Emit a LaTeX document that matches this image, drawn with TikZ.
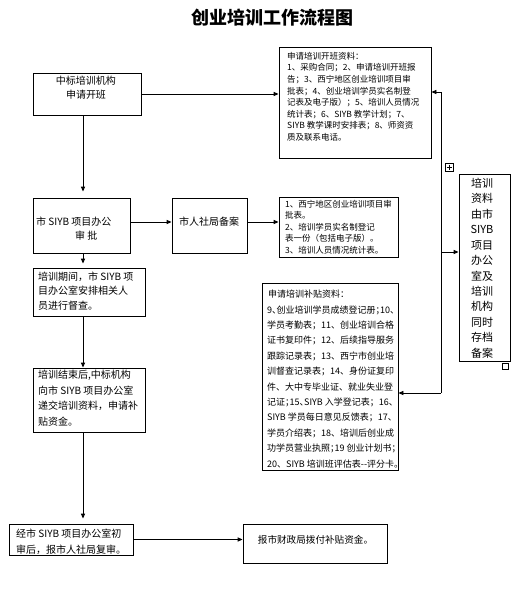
\documentclass[tikz,border=0pt]{standalone}
\usepackage{fontspec}
\setmainfont{Noto Sans CJK SC}
\usetikzlibrary{arrows.meta,calc}
\newcommand{\np}[1]{\makebox[0.5em][l]{#1}}
\newcommand{\fs}[2]{\fontsize{#1pt}{#2pt}\selectfont}
\begin{document}
\begin{tikzpicture}[x=1pt,y=-1pt,
  box/.style={draw,line width=0.9pt,inner sep=0pt},
  txt/.style={inner sep=0pt,align=left,anchor=north west},
  ln/.style={line width=0.9pt},
  arr/.style={ln,-{Triangle[length=5pt,width=4.2pt]}}]
\useasboundingbox (0,0) rectangle (518,595);
\node[inner sep=0pt,font=\fs{18}{20}\bfseries] (title) at (272,18) {创业培训工作流程图};

\node[box,minimum width=108pt,minimum height=42pt] (b1) at (87,94) {};
\node[txt,align=center,anchor=north,font=\fs{10}{14}] (t1) at (86,76.3) {中标培训机构\\申请开班};

\node[box,minimum width=152pt,minimum height=111pt] (b2) at (355,102.5) {};
\node[txt,font=\fs{8.5}{11.6}] (t2) at (287,52) {申请培训开班资料：\\1、采购合同；2、申请培训开班报\\告；3、西宁地区创业培训项目审\\批表；4、创业培训学员实名制登\\记表及电子版）；5、培训人员情况\\统计表；6、SIYB 教学计划；7、\\SIYB 教学课时安排表；8、师资资\\质及联系电话。};

\node[box,minimum width=97pt,minimum height=55pt] (b3) at (81.5,225.5) {};
\node[txt,font=\fs{10}{14}] (t3) at (36,217.3) {市 SIYB 项目办公\\\hspace*{39pt}审\ 批};

\node[box,minimum width=75pt,minimum height=55pt] (b4) at (209.5,225.5) {};
\node[inner sep=0pt,font=\fs{10}{14}] (t4) at (209,222) {市人社局备案};

\node[box,minimum width=119pt,minimum height=60pt] (b5) at (338.5,227) {};
\node[txt,font=\fs{8.5}{11.5}] (t5) at (285,200) {1、西宁地区创业培训项目审\\批表。\\2、培训学员实名制登记\\表一份（包括电子版）。\\3、培训人员情况统计表。};

\node[box,minimum width=51pt,minimum height=187pt] (b6) at (484.5,267.5) {};
\node[txt,align=center,anchor=north,font=\fs{11}{15.45}] (t6) at (482,177.8) {培训\\资料\\由市\\SIYB\\项目\\办公\\室及\\培训\\机构\\同时\\存档\\备案};

\node[box,minimum width=112pt,minimum height=48pt] (b7) at (89,292) {};
\node[txt,font=\fs{10}{14.5}] (t7) at (38,271.5) {培训期间，市 SIYB 项\\目办公室安排相关人\\员进行督查。};

\node[box,minimum width=112pt,minimum height=64pt] (b8) at (89,400) {};
\node[txt,font=\fs{10}{15.5}] (t8) at (38,370.3) {培训结束后,中标机构\\向市 SIYB 项目办公室\\递交培训资料，申请补\\贴资金。};

\node[box,minimum width=136pt,minimum height=187pt] (b9) at (330,376.5) {};
\node[txt,font=\fs{9}{15.4}] (t9) at (267,289.8) {\hspace*{1pt}申请培训补贴资料：\\9\np{、}创业培训学员成绩登记册\np{；}10\np{、}\\学员考勤表；11、创业培训合格\\证书复印件；12、后续指导服务\\跟踪记录表；13、西宁市创业培\\训督查记录表；14、身份证复印\\件、大中专毕业证、就业失业登\\记证\np{；}15\np{、}SIYB 入学登记表；16\np{、}\\SIYB 学员每日意见反馈表；17\np{、}\\学员介绍表；18、培训后创业成\\功学员营业执照\np{；}19 创业计划书\np{；}\\20、SIYB 培训班评估表-{}-评分卡。};

\node[box,minimum width=124pt,minimum height=31pt] (b10) at (71,539.5) {};
\node[txt,font=\fs{10}{16.5}] (t10) at (16,528.3) {经市 SIYB 项目办公室初\\审后，报市人社局复审。};

\node[box,minimum width=144pt,minimum height=39pt] (b11) at (315,543.5) {};
\node[inner sep=0pt,font=\fs{9.6}{12}] (t11) at (315.5,540) {报市财政局拨付补贴资金。};

% left spine
\coordinate (sp) at (83,0);
\draw[arr] (b1.south -| sp) -- ($(b3.north -| sp)+(0,-6)$);
\draw[arr] (b3.south -| sp) -- ($(b7.north -| sp)+(0,-4)$);
\draw[arr] (b7.south -| sp) -- (b8.north -| sp);
\draw[arr] (b8.south -| sp) -- ($(b10.north -| sp)+(0,-5)$);

% horizontal arrows
\draw[arr] (b1.east) -- (b1.east -| b2.west);
\draw[arr] (b3.east |- t4) -- (t4 -| b4.west);
\draw[arr] (b4.east |- t4) -- (t4 -| b5.west);
\draw[arr] (b10.east) -- (b10.east -| b11.west);

% right bracket
\coordinate (r1) at (441,92);
\coordinate (r2) at (441,393);
\coordinate (r3) at (441,252);
\draw[ln] (r1) -- (r2);
\draw[arr] (r1) -- (r1 -| b2.east);
\draw[arr] (r2) -- (r2 -| b9.east);
\draw[arr] (r3) -- (r3 -| b6.west);

% handles
\draw[line width=0.6pt] (445,163) rectangle (453,171);
\draw[line width=0.5pt] (449,164.5) -- (449,169.5) (446.5,167) -- (451.5,167);
\draw[line width=0.6pt] (502,363) rectangle (508,369);
\end{tikzpicture}
\end{document}
